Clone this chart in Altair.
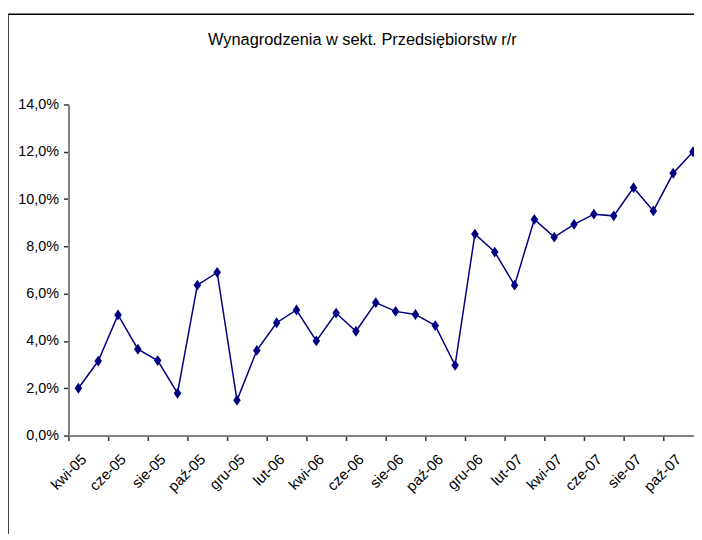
import altair as alt
import pandas as pd

months = ["kwi-05", "maj-05", "cze-05", "lip-05", "sie-05", "wrz-05", "paź-05", "lis-05", "gru-05",
          "sty-06", "lut-06", "mar-06", "kwi-06", "maj-06", "cze-06", "lip-06", "sie-06", "wrz-06",
          "paź-06", "lis-06", "gru-06",
          "sty-07", "lut-07", "mar-07", "kwi-07", "maj-07", "cze-07", "lip-07", "sie-07", "wrz-07",
          "paź-07", "lis-07"]
values = [2.0, 3.15, 5.1, 3.65, 3.17, 1.79, 6.36, 6.9, 1.49,
          3.6, 4.77, 5.31, 4.0, 5.18, 4.41, 5.62, 5.25, 5.12, 4.65, 2.97, 8.52,
          7.76, 6.36, 9.14, 8.39, 8.93, 9.36, 9.29, 10.48, 9.5, 11.09, 12.0]
y_ticks = [0, 2, 4, 6, 8, 10, 12, 14]

df = pd.DataFrame({"idx": list(range(len(months))), "miesiac": months, "val": values})

FONT = "Liberation Sans, Arial, sans-serif"
label_vals = list(range(0, len(months), 2))
tick_vals = [i - 0.5 for i in range(0, len(months), 2)]
label_arr = "[" + ",".join("'" + m + "'" for m in months) + "]"

xscale = alt.Scale(domain=[-0.5, 31.05], nice=False, zero=False)
yscale = alt.Scale(domain=[0, 14], nice=False)

yaxis = alt.Axis(values=y_ticks, tickSize=5, tickColor="#333333", tickWidth=1.5,
                 domainColor="#808080", domainWidth=2, grid=False, title=None,
                 labelFont=FONT, labelFontSize=14.5, labelColor="#000000",
                 labelPadding=5,
                 labelExpr="replace(format(datum.value, '.1f'), '.', ',') + '%'")

base = alt.Chart(df)

line = base.mark_line(color="#000080", strokeWidth=1.5).encode(
    x=alt.X("idx:Q", scale=xscale,
            axis=alt.Axis(values=tick_vals, labels=False, tickSize=5, tickColor="#333333",
                          tickWidth=1.5, domainColor="#808080", domainWidth=2, grid=False,
                          title=None, orient="bottom")),
    y=alt.Y("val:Q", scale=yscale, axis=yaxis),
)

points = base.mark_point(shape="M0,-1.15L0.8,0L0,1.15L-0.8,0Z", filled=True, size=90,
                         color="#000080", opacity=1).encode(
    x=alt.X("idx:Q", scale=xscale,
            axis=alt.Axis(values=label_vals, ticks=False, domain=False, grid=False, title=None,
                          orient="bottom", labelAngle=-45, labelPadding=16, labelOverlap=False,
                          labelFont=FONT, labelFontSize=15, labelColor="#000000",
                          labelExpr=label_arr + "[datum.value]")),
    y=alt.Y("val:Q", scale=yscale, axis=yaxis),
)

frame_df = pd.DataFrame({"f": [0]})
frame_top = alt.Chart(frame_df).mark_rule(color="#000000", strokeWidth=1.5, clip=False).encode(
    x=alt.value(-61), x2=alt.value(700), y=alt.value(-91)
)
frame_left = alt.Chart(frame_df).mark_rule(color="#000000", strokeWidth=1.5, clip=False).encode(
    x=alt.value(-61), y=alt.value(-91), y2=alt.value(700)
)

chart = alt.layer(frame_top, frame_left, line, points).resolve_axis(x="independent").properties(
    width=631,
    height=334,
    title=alt.TitleParams("Wynagrodzenia w sekt. Przedsiębiorstw r/r", font=FONT, fontSize=16.5,
                          fontWeight="normal", color="#000000", anchor="middle", dx=-19,
                          offset=0, dy=48, baseline="alphabetic"),
    autosize=alt.AutoSizeParams(type="none"),
    padding={"left": 61, "top": 95, "right": 0, "bottom": 97},
).configure_view(stroke=None)

chart.save("out.html", embed_options={"renderer": "svg", "actions": False})
